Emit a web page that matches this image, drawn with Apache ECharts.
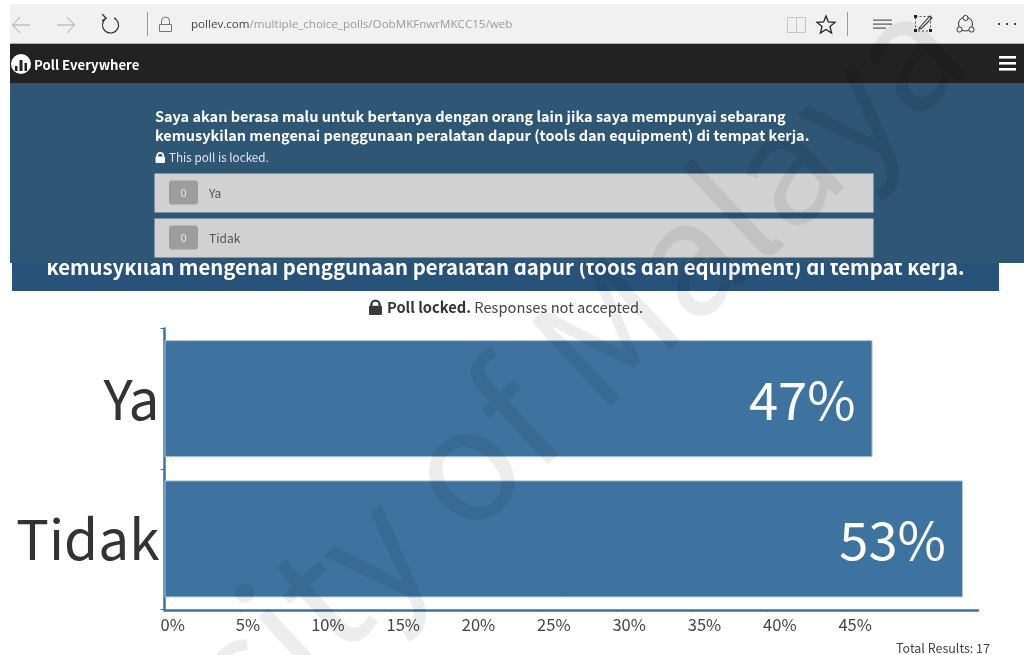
<!DOCTYPE html>
<html>
<head>
<meta charset="utf-8">
<title>Poll Everywhere</title>
<script src="https://cdn.jsdelivr.net/npm/echarts@6/dist/echarts.min.js"></script>
<style>
  html, body { margin: 0; padding: 0; background: #fff; }
  #chart { width: 1024px; height: 655px; }
</style>
</head>
<body>
<div id="chart"></div>
<script>
// Poll results
const categories = ['Ya', 'Tidak'];
const percentages = [47, 53];
const tickValues = [0, 5, 10, 15, 20, 25, 30, 35, 40, 45];
const axisMax = 54;

// Page copy
const urlHost = 'pollev.com';
const urlPath = '/multiple_choice_polls/OobMKFnwrMKCC15/web';
const brand = 'Poll Everywhere';
const questionLine1 = 'Saya akan berasa malu untuk bertanya dengan orang lain jika saya mempunyai sebarang';
const questionLine2 = 'kemusykilan mengenai penggunaan peralatan dapur (tools dan equipment) di tempat kerja.';
const lockedNote = 'This poll is locked.';
const totalResults = 'Total Results: 17';
const watermark = 'University of Malaya';

const SANS = '"Noto Sans CJK SC", "Noto Sans", sans-serif';
const UI = '"Open Sans", "Noto Sans", sans-serif';
const BAR = '#3d739e';
const AXIS = '#3d739e';

const rect = (x, y, width, height, fill, extra) => Object.assign(
  { type: 'rect', shape: { x, y, width, height, r: (extra && extra.r) || 0 }, style: { fill } }, extra && { z: extra.z });
const text = (x, y, str, font, fill, opts) => ({
  type: 'text', x, y, z: opts && opts.z,
  style: Object.assign({ text: str, font, fill, textVerticalAlign: 'middle' }, opts && opts.style)
});
const stroke = (points, color, width, closed) => ({
  type: closed ? 'polygon' : 'polyline', shape: { points },
  style: { stroke: color, lineWidth: width, fill: closed ? 'none' : null }
});

// Lock glyph: solid body below a shackle
function lockIcon(x, y, w, h, color) {
  return [
    { type: 'rect', shape: { x, y: y + h * 0.42, width: w, height: h * 0.58, r: 1 }, style: { fill: color } },
    { type: 'arc', shape: { cx: x + w / 2, cy: y + h * 0.36, r: w * 0.32, startAngle: Math.PI, endAngle: 0 },
      style: { stroke: color, lineWidth: Math.max(1.5, w * 0.17), fill: 'none' } },
    { type: 'rect', shape: { x: x + w * 0.1, y: y + h * 0.3, width: w * 0.16, height: h * 0.15 }, style: { fill: color } },
    { type: 'rect', shape: { x: x + w * 0.74, y: y + h * 0.3, width: w * 0.16, height: h * 0.15 }, style: { fill: color } }
  ];
}

function optionRow(y, label) {
  return [
    rect(154.5, y, 719, 39, '#d1d1d1'),
    rect(169, y + 7, 29, 24, '#9d9d9d', { r: 3 }),
    text(183.5, y + 19.5, '0', '11px ' + SANS, '#e6e6e6', { style: { textAlign: 'center' } }),
    text(209, y + 20, label, '12px ' + SANS, '#555555')
  ];
}

// Browser toolbar, drawn with thin outlined glyphs
const toolbar = [
  rect(10, 4, 1014, 40, '#f1f1f1'),
  rect(10, 43.5, 1014, 1, '#6e6e6e'),
  stroke([[30, 25], [13, 25]], '#a8a8a8', 1),
  stroke([[20, 17], [12.5, 25], [20, 33]], '#a8a8a8', 1),
  stroke([[57, 25], [74, 25]], '#a8a8a8', 1),
  stroke([[67, 17], [74.5, 25], [67, 33]], '#a8a8a8', 1),
  { type: 'arc', shape: { cx: 110.5, cy: 25, r: 8, startAngle: -1.1, endAngle: -2.1, clockwise: true },
    style: { stroke: '#333', lineWidth: 1.2, fill: 'none' } },
  stroke([[102, 14], [106, 18], [102, 21]], '#333', 1.2),
  rect(147, 12, 1, 24, '#9a9a9a'),
  { type: 'rect', shape: { x: 159.5, y: 24.5, width: 12, height: 7 }, style: { stroke: '#777', lineWidth: 1, fill: 'none' } },
  { type: 'arc', shape: { cx: 165.5, cy: 21, r: 4, startAngle: Math.PI, endAngle: 0 }, style: { stroke: '#777', lineWidth: 1, fill: 'none' } },
  rect(161, 21, 1, 3.5, '#777'), rect(169, 21, 1, 3.5, '#777'),
  {
    type: 'text', x: 191, y: 25,
    style: {
      text: '{h|' + urlHost + '}{p|' + urlPath + '}', textVerticalAlign: 'middle',
      rich: {
        h: { font: '11.6px ' + UI, fill: '#444' },
        p: { font: '11.6px ' + UI, fill: '#9a9a9a' }
      }
    }
  },
  { type: 'rect', shape: { x: 787.5, y: 17.5, width: 18, height: 15 }, style: { stroke: '#c6c6c6', lineWidth: 1, fill: 'none' } },
  stroke([[796.5, 18], [796.5, 32]], '#c6c6c6', 1),
  stroke([[826, 16], [828.4, 22], [835, 22.4], [830, 26.6], [831.6, 33], [826, 29.4], [820.4, 33], [822, 26.6], [817, 22.4], [823.6, 22]], '#222', 1.3, true),
  rect(847, 12, 1, 24, '#9a9a9a'),
  rect(873, 19.5, 19, 1.2, '#555'), rect(873, 23.5, 19, 1.2, '#555'), rect(873, 27.5, 13, 1.2, '#555'),
  { type: 'rect', shape: { x: 915.5, y: 16.5, width: 15, height: 14.5 }, style: { stroke: '#555', lineWidth: 1, lineDash: [2, 2], fill: 'none' } },
  rect(914, 15, 3, 3, '#222'), rect(914, 29, 3, 3, '#222'), rect(929, 29, 3, 3, '#222'),
  stroke([[920, 27], [930, 16], [932, 18], [922, 28], [919, 29]], '#333', 1.1, true),
  { type: 'circle', shape: { cx: 965.5, cy: 24, r: 7 }, style: { stroke: '#333', lineWidth: 1, fill: '#f1f1f1' } },
  { type: 'circle', shape: { cx: 965.5, cy: 18, r: 2.6 }, style: { stroke: '#333', lineWidth: 1, fill: '#f1f1f1' } },
  { type: 'circle', shape: { cx: 959.5, cy: 29.5, r: 2.6 }, style: { stroke: '#333', lineWidth: 1, fill: '#f1f1f1' } },
  { type: 'circle', shape: { cx: 971.5, cy: 29.5, r: 2.6 }, style: { stroke: '#333', lineWidth: 1, fill: '#f1f1f1' } },
  rect(998, 23, 2, 2, '#444'), rect(1006, 23, 2, 2, '#444'), rect(1014, 23, 2, 2, '#444')
];

// Site header
const header = [
  rect(10, 44, 1014, 39, '#222222'),
  { type: 'circle', shape: { cx: 21, cy: 64, r: 10 }, style: { fill: '#ffffff' } },
  rect(15, 66, 2.5, 5, '#222'), rect(19.5, 60, 3, 11, '#222'), rect(24.5, 63, 2.5, 8, '#222'),
  text(34, 64.5, brand, 'bold 13.2px ' + SANS, '#ffffff'),
  rect(999, 56, 17, 2.6, '#ffffff'), rect(999, 62, 17, 2.6, '#ffffff'), rect(999, 68, 17, 2.6, '#ffffff')
];

// Second capture's banner sits under the first panel, so its top is cut off
const banner = [
  rect(12, 258, 987, 33, '#27527a'),
  text(505.5, 267, questionLine2, 'bold 20.35px ' + SANS, '#ffffff', { style: { textAlign: 'center' } })
];

const panel = [
  rect(10, 83, 1014, 180, '#2e5675'),
  text(155, 116, questionLine1, 'bold 14.5px ' + SANS, '#ffffff'),
  text(155, 135.5, questionLine2, 'bold 14.5px ' + SANS, '#ffffff'),
  ...lockIcon(155.5, 152, 9.5, 11, '#ffffff'),
  text(169, 158, lockedNote, '11.7px ' + SANS, '#e6e6e6'),
  ...optionRow(173.5, categories[0]),
  ...optionRow(218.5, categories[1])
];

const footerNotes = [
  ...lockIcon(369, 299, 13, 16, '#3a3a3a'),
  {
    type: 'text', x: 387, y: 307,
    style: {
      text: '{b|Poll locked.} {n|Responses not accepted.}', textVerticalAlign: 'middle',
      rich: {
        b: { font: 'bold 14.7px ' + SANS, fill: '#333' },
        n: { font: '14.7px ' + SANS, fill: '#444' }
      }
    }
  },
  text(990, 648, totalResults, '12.5px ' + SANS, '#444', { style: { textAlign: 'right' } })
];

const watermarkText = {
  type: 'text', x: 988.5, y: 79, z: 100, rotation: 43 * Math.PI / 180,
  style: {
    text: watermark, font: '157px ' + SANS, fill: 'rgba(0,0,0,0.07)',
    textAlign: 'right', textVerticalAlign: 'bottom'
  },
  silent: true
};

const chart = echarts.init(document.getElementById('chart'), null, { renderer: 'canvas' });
chart.setOption({
  animation: false,
  backgroundColor: '#ffffff',
  grid: { left: 164.5, width: 813.5, top: 328.5, height: 280.5, containLabel: false },
  xAxis: {
    type: 'value', min: 0, max: axisMax, interval: 5, offset: 1,
    splitLine: { show: false },
    axisLine: { show: true, lineStyle: { color: AXIS, width: 2.5 } },
    axisTick: { show: true, length: 2, customValues: tickValues, lineStyle: { color: AXIS, width: 1 } },
    axisLabel: {
      customValues: tickValues, formatter: '{value}%', color: '#444',
      fontFamily: SANS, fontSize: 16.5,
      align: 'left', padding: [0, 0, 0, -4], margin: 6
    }
  },
  yAxis: {
    type: 'category', inverse: true, data: categories,
    axisLine: { show: true, lineStyle: { color: AXIS, width: 2.5 } },
    axisTick: { show: true, length: 4, lineStyle: { color: AXIS, width: 1 } },
    axisLabel: { color: '#333', fontFamily: SANS, fontSize: 55, margin: 5 }
  },
  series: [{
    type: 'bar', data: percentages, barWidth: 117,
    itemStyle: { color: BAR, borderColor: '#aac4d9', borderWidth: 1 },
    label: {
      show: true, position: 'insideRight', distance: 17, offset: [0, 1], formatter: '{c}%',
      color: '#ffffff', fontFamily: SANS, fontSize: 52.5
    }
  }],
  graphic: {
    elements: [...toolbar, ...header, ...banner, ...panel, ...footerNotes, watermarkText]
  }
});
</script>
</body>
</html>
